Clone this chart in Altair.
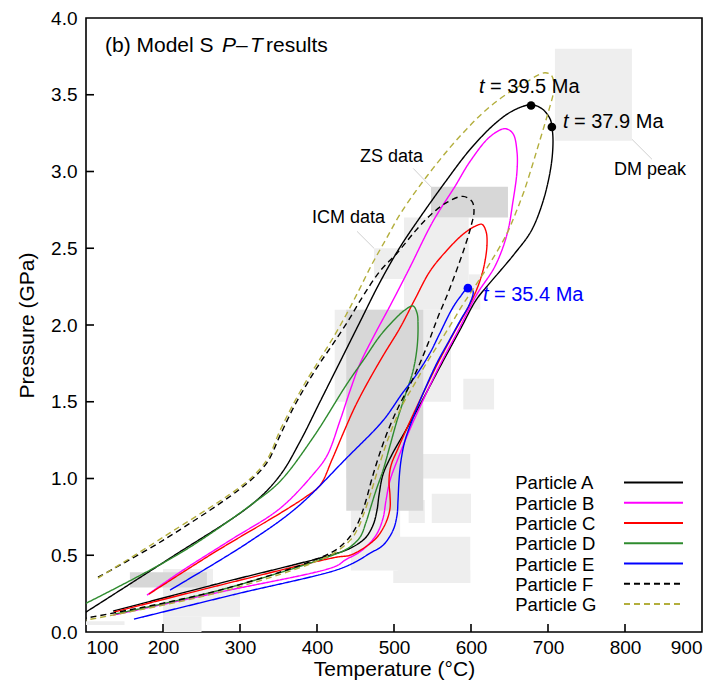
import altair as alt
import pandas as pd

FONT = "Liberation Sans"

PARTICLES = ["Particle A", "Particle B", "Particle C", "Particle D",
             "Particle E", "Particle F", "Particle G"]
COLORS = ["#000000", "#ff00ff", "#ff0000", "#2e8b2e", "#0000ff", "#000000", "#b3ae3c"]
DASHES = [[1, 0], [1, 0], [1, 0], [1, 0], [1, 0], [6, 4], [6, 4]]

# ---- P-T paths (T in degC, P in GPa) ----
A_T = [95, 209.1, 316.9, 351.9, 377.9, 403.9, 429.9, 455.8, 481.8, 507.8, 533.8, 566.2,
       598.7, 631.2, 654.5, 677.9, 692.2, 702.6, 705.2, 706.5, 703.9, 693.5, 677.9, 657.1,
       637.7, 622.1, 606.5, 585.7, 559.7, 533.8, 514.3, 497.4, 485.7, 480.5, 477.9, 472.7,
       462.3, 442.9, 416.9, 274.0, 135.1]
A_P = [0.114, 0.481, 0.838, 1.020, 1.240, 1.500, 1.760, 2.020, 2.279, 2.507, 2.701, 2.929,
       3.143, 3.312, 3.396, 3.435, 3.409, 3.344, 3.286, 3.195, 3.033, 2.805, 2.610, 2.468,
       2.351, 2.260, 2.162, 1.968, 1.727, 1.481, 1.305, 1.156, 1.026, 0.890, 0.792, 0.695,
       0.610, 0.545, 0.500, 0.318, 0.136]

B_T = [179.2, 222.1, 287.0, 351.9, 394.8, 413.0, 429.9, 442.9, 455.8, 475.3, 494.8, 519.5,
       550.6, 579.2, 598.7, 624.7, 644.2, 654.5, 659.7, 659.7, 654.5, 646.8, 631.2, 607.8,
       584.4, 558.4, 535.1, 518.2, 505.2, 494.8, 489.6, 485.7, 476.6, 458.4, 436.4, 424.7,
       274.0, 135.1]
B_P = [0.240, 0.390, 0.597, 0.805, 1.026, 1.149, 1.377, 1.572, 1.747, 1.942, 2.124, 2.364,
       2.675, 2.903, 3.065, 3.227, 3.279, 3.247, 3.130, 3.000, 2.805, 2.591, 2.383, 2.201,
       1.974, 1.727, 1.481, 1.292, 1.130, 0.987, 0.857, 0.740, 0.630, 0.532, 0.468, 0.429,
       0.260, 0.110]

C_T = [181.8, 264.9, 351.9, 384.4, 403.9, 419.5, 433.8, 449.4, 464.9, 485.7, 507.8, 527.3,
       546.8, 568.8, 589.6, 605.2, 614.3, 619.5, 620.8, 616.9, 609.1, 598.7, 579.2, 557.1,
       536.4, 518.2, 505.2, 496.1, 493.5, 494.8, 494.8, 489.6, 477.9, 462.3, 442.9, 424.7,
       274.0, 136.4]
C_P = [0.247, 0.513, 0.773, 0.877, 0.955, 1.123, 1.292, 1.468, 1.617, 1.799, 1.981, 2.169,
       2.351, 2.487, 2.591, 2.643, 2.656, 2.610, 2.526, 2.383, 2.253, 2.137, 1.961, 1.753,
       1.539, 1.344, 1.195, 1.084, 0.987, 0.890, 0.805, 0.714, 0.617, 0.552, 0.500, 0.487,
       0.305, 0.130]

D_T = [92, 222.1, 316.9, 351.9, 394.8, 439.0, 462.3, 481.8, 501.3, 514.3, 524.7, 529.9,
       531.2, 529.9, 524.7, 514.3, 503.9, 494.8, 485.7, 476.6, 470.1, 463.6, 455.8, 440.3,
       416.9, 274.0, 137.7]
D_P = [0.167, 0.513, 0.838, 0.981, 1.266, 1.617, 1.786, 1.929, 2.039, 2.098, 2.124, 2.078,
       1.994, 1.851, 1.701, 1.539, 1.377, 1.214, 1.052, 0.922, 0.818, 0.714, 0.617, 0.545,
       0.494, 0.273, 0.117]

E_T = [209.1, 309.1, 374.0, 439.0, 485.7, 510.4, 529.9, 546.8, 559.7, 575.3, 585.7, 596.1,
       602.6, 598.7, 585.7, 571.4, 555.8, 536.4, 523.4, 514.3, 509.1, 506.5, 505.2, 503.9,
       498.7, 485.7, 468.8, 449.4, 424.7, 294.8, 162.3]
E_P = [0.273, 0.578, 0.812, 1.136, 1.377, 1.552, 1.682, 1.818, 1.948, 2.104, 2.182, 2.240,
       2.221, 2.143, 2.026, 1.896, 1.753, 1.539, 1.377, 1.247, 1.117, 0.987, 0.857, 0.760,
       0.662, 0.565, 0.513, 0.455, 0.403, 0.247, 0.084]

F_T = [115.6, 200.0, 309.1, 335.1, 351.9, 368.8, 387.0, 403.9, 420.8, 440.3, 459.7, 481.8,
       503.9, 527.3, 546.8, 568.8, 589.6, 601.3, 603.9, 600.0, 592.2, 581.8, 570.1, 557.1,
       545.5, 533.8, 520.8, 506.5, 492.2, 480.5, 471.4, 463.6, 455.8, 446.8, 435.1, 416.9,
       274.0, 95]
F_P = [0.357, 0.597, 0.968, 1.104, 1.279, 1.455, 1.617, 1.753, 1.877, 2.026, 2.188, 2.351,
       2.468, 2.610, 2.714, 2.799, 2.838, 2.805, 2.740, 2.643, 2.513, 2.364, 2.208, 2.052,
       1.896, 1.753, 1.610, 1.474, 1.312, 1.149, 1.000, 0.857, 0.740, 0.649, 0.578, 0.513,
       0.273, 0.086]

G_T = [115.6, 200.0, 309.1, 335.1, 351.9, 368.8, 387.0, 403.9, 420.8, 437.7, 454.5, 471.4,
       489.6, 507.8, 529.9, 550.6, 572.7, 594.8, 615.6, 637.7, 657.1, 672.7, 685.7, 696.1,
       703.9, 707.8, 706.5, 701.3, 694.8, 687.0, 679.2, 668.8, 658.4, 646.8, 624.7, 605.2,
       588.3, 572.7, 557.1, 541.6, 526.0, 510.4, 497.4, 487.0, 477.9, 470.1, 462.3, 453.2,
       442.9, 416.9, 274.0, 95]
G_P = [0.351, 0.617, 0.981, 1.123, 1.312, 1.481, 1.643, 1.779, 1.916, 2.065, 2.227, 2.396,
       2.559, 2.721, 2.883, 3.020, 3.156, 3.279, 3.383, 3.474, 3.539, 3.585, 3.624, 3.643,
       3.630, 3.572, 3.500, 3.403, 3.292, 3.163, 3.033, 2.870, 2.734, 2.597, 2.403, 2.253,
       2.124, 1.994, 1.870, 1.747, 1.610, 1.474, 1.325, 1.182, 1.039, 0.909, 0.792, 0.675,
       0.597, 0.500, 0.260, 0.073]

PATHS_T = [A_T, B_T, C_T, D_T, E_T, F_T, G_T]
PATHS_P = [A_P, B_P, C_P, D_P, E_P, F_P, G_P]

# ---- grey data boxes (T1, T2, P1, P2, shade) ----
BOX_T1 = [709, 513, 597, 474, 423, 590, 438, 519, 549, 444, 505, 499, 200, 200, 200, 100,
          548, 438, 157]
BOX_T2 = [809, 597, 612, 513, 574, 630, 599, 540, 600, 508, 599, 599, 265, 300, 250, 150,
          648, 538, 257]
BOX_P1 = [3.20, 2.10, 2.10, 2.30, 1.50, 1.45, 1.00, 0.71, 0.71, 0.40, 0.32, 0.32, 0.31, 0.10,
          0.00, 0.045, 2.70, 0.79, 0.29]
BOX_P2 = [3.80, 2.70, 2.33, 2.50, 2.10, 1.65, 1.16, 0.86, 0.90, 0.79, 0.62, 0.40, 0.41, 0.31,
          0.10, 0.07, 2.90, 2.10, 0.39]
BOX_SHADE = ["light"] * 16 + ["dark"] * 3

# ---- annotations ----
DOT_T = [678, 705, 596]
DOT_P = [3.43, 3.29, 2.24]
DOT_C = ["#000000", "#000000", "#0000ff"]
AGE_LABELS = ["= 39.5 Ma", "= 37.9 Ma", "= 35.4 Ma"]
AGE_T = [610.5, 719.5, 615.5]
AGE_P = [3.513, 3.286, 2.156]

NOTE_LABELS = ["ZS data", "ICM data", "DM peak"]
NOTE_T = [455.8, 393.5, 785.7]
NOTE_P = [3.065, 2.662, 2.974]
LEADER_T1 = [525, 452, 809]
LEADER_T2 = [548, 474, 835]
LEADER_P1 = [3.02, 2.61, 3.21]
LEADER_P2 = [2.90, 2.50, 3.08]

X_TICKS = [100, 200, 300, 400, 500, 600, 700, 800, 900]
Y_TICKS = [0.0, 0.5, 1.0, 1.5, 2.0, 2.5, 3.0, 3.5, 4.0]

# ---------------------------------------------------------------
rows = []
for name, ts, ps in zip(PARTICLES, PATHS_T, PATHS_P):
    for i, (t, p) in enumerate(zip(ts, ps)):
        rows.append({"particle": name, "T": t, "P": p, "i": i})
paths = pd.DataFrame(rows)

boxes = pd.DataFrame({"T": BOX_T1, "T2": BOX_T2, "P": BOX_P1, "P2": BOX_P2, "shade": BOX_SHADE})
dots = pd.DataFrame({"T": DOT_T, "P": DOT_P, "c": DOT_C})
ages = pd.DataFrame({"T": AGE_T, "P": AGE_P, "label": AGE_LABELS, "c": DOT_C})
notes = pd.DataFrame({"T": NOTE_T, "P": NOTE_P, "label": NOTE_LABELS})
leaders = pd.DataFrame({"T": LEADER_T1, "T2": LEADER_T2, "P": LEADER_P1, "P2": LEADER_P2})

xscale = alt.Scale(domain=[100, 900], nice=False, zero=False)
yscale = alt.Scale(domain=[0, 4], nice=False)
xaxis = alt.Axis(title="Temperature (°C)", values=X_TICKS, format="d", ticks=False,
                 domain=False, grid=False, labelFontSize=19, titleFontSize=21,
                 labelPadding=6, titlePadding=1, labelColor="black", titleColor="black",
                 labelFont=FONT, titleFont=FONT, titleFontWeight="normal")
yaxis = alt.Axis(title="Pressure (GPa)", values=Y_TICKS, format=".1f", ticks=False,
                 domain=False, grid=False, labelFontSize=19, titleFontSize=21,
                 labelPadding=9, titlePadding=13, labelColor="black", titleColor="black",
                 labelFont=FONT, titleFont=FONT, titleFontWeight="normal")

X = lambda f: alt.X(f"{f}:Q", scale=xscale, axis=xaxis)
Y = lambda f: alt.Y(f"{f}:Q", scale=yscale, axis=yaxis)

part_color = alt.Scale(domain=PARTICLES, range=COLORS)
part_dash = alt.Scale(domain=PARTICLES, range=DASHES)

box_layer = alt.Chart(boxes).mark_rect().encode(
    x=X("T"), x2="T2", y=Y("P"), y2="P2",
    fill=alt.Fill("shade:N", scale=alt.Scale(domain=["light", "dark"],
                                               range=["#eeeeee", "#d7d7d7"]), legend=None),
)

leader_layer = alt.Chart(leaders).mark_rule(color="#d0d0d0", strokeWidth=1).encode(
    x=X("T"), x2="T2", y=Y("P"), y2="P2")

xt = pd.DataFrame({"T": X_TICKS[1:-1]})
yt = pd.DataFrame({"P": Y_TICKS[1:-1]})
xtick_layer = alt.Chart(xt).mark_rule(color="black", strokeWidth=1.6).encode(
    x=X("T"), y=alt.value(614), y2=alt.value(606))
ytick_layer = alt.Chart(yt).mark_rule(color="black", strokeWidth=1.6).encode(
    y=Y("P"), x=alt.value(0), x2=alt.value(8))

line_layer = alt.Chart(paths).mark_line(strokeWidth=1.4, interpolate="catmull-rom",
                                        clip=True).encode(
    x=X("T"), y=Y("P"),
    stroke=alt.Stroke("particle:N", scale=part_color, legend=None),
    strokeDash=alt.StrokeDash("particle:N", scale=part_dash, legend=None),
    order="i:Q",
)

dot_layer = alt.Chart(dots).mark_circle(size=75, opacity=1).encode(
    x=X("T"), y=Y("P"), color=alt.Color("c:N", scale=None))

age_t_layer = alt.Chart(ages).mark_text(text="t", align="left", baseline="alphabetic",
                                        fontSize=20, font=FONT, fontStyle="italic").encode(
    x=X("T"), y=Y("P"), color=alt.Color("c:N", scale=None))
age_layer = alt.Chart(ages).mark_text(align="left", baseline="alphabetic", dx=11,
                                      fontSize=20, font=FONT).encode(
    x=X("T"), y=Y("P"), text="label:N", color=alt.Color("c:N", scale=None))

note_layer = alt.Chart(notes).mark_text(align="left", baseline="alphabetic", fontSize=18,
                                        font=FONT, color="black").encode(
    x=X("T"), y=Y("P"), text="label:N")

# title in pieces (plain / italic)
TITLE_PARTS = ["(b) Model S", "P", "–", "T", "results"]
TITLE_STYLE = ["normal", "italic", "normal", "italic", "normal"]
TITLE_DX = [0, 117, 131, 145, 161]
title_layers = []
for txt, st, dx in zip(TITLE_PARTS, TITLE_STYLE, TITLE_DX):
    title_layers.append(
        alt.Chart(pd.DataFrame({"T": [124.7], "P": [3.78]})).mark_text(
            text=txt, align="left", baseline="alphabetic", fontSize=21, font=FONT,
            fontStyle=st, dx=dx, color="black").encode(x=X("T"), y=Y("P")))

# legend (labels left of line samples)
LEG_P0, LEG_DP = 0.974, 0.132
leg = pd.DataFrame({
    "particle": PARTICLES,
    "P": [LEG_P0 - k * LEG_DP for k in range(len(PARTICLES))],
    "T": [657.5] * len(PARTICLES),
    "TL": [798.7] * len(PARTICLES),
    "TL2": [875.3] * len(PARTICLES),
})
leg_text = alt.Chart(leg).mark_text(align="left", baseline="middle", fontSize=18.5,
                                    font=FONT, color="black", dy=1).encode(
    x=X("T"), y=Y("P"), text="particle:N")
leg_line = alt.Chart(leg).mark_rule(strokeWidth=2).encode(
    x=X("TL"), x2="TL2", y=Y("P"),
    stroke=alt.Stroke("particle:N", scale=part_color, legend=None),
    strokeDash=alt.StrokeDash("particle:N", scale=part_dash, legend=None),
)

chart = alt.layer(
    box_layer, leader_layer, xtick_layer, ytick_layer, line_layer, dot_layer,
    age_t_layer, age_layer, note_layer, *title_layers, leg_text, leg_line
).resolve_scale(
    color="independent", fill="independent", stroke="shared", strokeDash="shared"
).properties(
    width=616, height=614,
    padding={"left": 78, "top": 10, "right": 10, "bottom": 56},
    autosize=alt.AutoSizeParams(type="none"),
).configure_view(stroke="black", strokeWidth=1.6)

chart.save("out.html", embed_options={"renderer": "svg", "actions": False})
